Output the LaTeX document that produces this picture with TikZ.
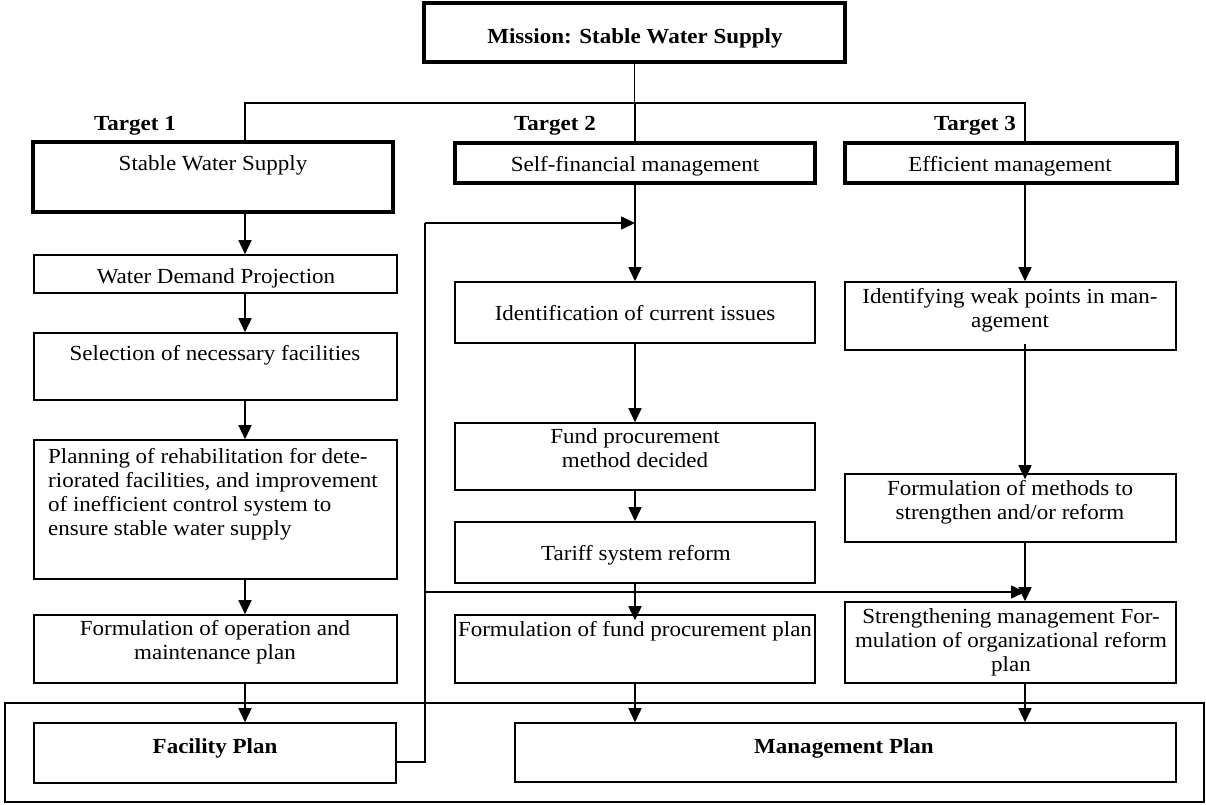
\documentclass[tikz,border=0pt]{standalone}
\usepackage{fontspec}
\setmainfont{Liberation Serif}[FakeStretch=1.07]
\usetikzlibrary{arrows.meta,calc}
\newcommand\mkbox[6]{\node[#6, minimum width={(#4-#2)*1pt}, minimum height={(#5-#3)*1pt}] (#1) at ({(#2+#4)/2},{(#3+#5)/2}) {};}
\newcommand\tx[5]{\node[#2, anchor=north] (#1) at (#3,{#4-16.8}) {\strut #5};}
\begin{document}
\begin{tikzpicture}[x=1pt,y=-1pt,
  thinbox/.style={draw, line width=1.6pt, inner sep=0pt, rectangle},
  thickbox/.style={draw, line width=3.2pt, inner sep=0pt, rectangle},
  txt/.style={inner sep=0pt, align=center, font=\fontsize{21.5}{24}\selectfont},
  btxt/.style={inner sep=0pt, align=center, font=\fontsize{21.5}{24}\selectfont\bfseries},
  conn/.style={line width=1.6pt},
  arr/.style={line width=1.6pt, -{Triangle[length=14pt,width=13pt]}},
]
\useasboundingbox (0,0) rectangle (1206,804);

% outer container
\mkbox{outer}{5}{703}{1204}{802}{thinbox}

% mission and targets
\mkbox{mission}{424}{3}{845}{62}{thickbox}
\mkbox{t1}{33}{142}{393}{212}{thickbox}
\mkbox{t2}{455}{143}{815}{183}{thickbox}
\mkbox{t3}{845}{143}{1177}{183}{thickbox}

% left column
\mkbox{wdp}{34}{255}{397}{293}{thinbox}
\mkbox{sel}{34}{333}{397}{400}{thinbox}
\mkbox{plan}{34}{440}{397}{579}{thinbox}
\mkbox{form}{34}{615}{397}{683}{thinbox}
\mkbox{fac}{34}{723}{396}{783}{thinbox}

% middle column
\mkbox{ident}{455}{282}{815}{343}{thinbox}
\mkbox{fund}{455}{423}{815}{490}{thinbox}
\mkbox{tariff}{455}{522}{815}{583}{thinbox}
\mkbox{fplan}{455}{615}{815}{683}{thinbox}

% right column
\mkbox{weak}{845}{282}{1176}{350}{thinbox}
\mkbox{methods}{845}{474}{1176}{542}{thinbox}
\mkbox{strength}{845}{602}{1176}{683}{thinbox}
\mkbox{mgmt}{515}{723}{1176}{782}{thinbox}

% texts
\tx{missiont}{btxt}{635}{43}{Mission: Stable Water Supply}
\tx{lab1}{btxt}{135}{130}{Target 1}
\tx{lab2}{btxt}{555}{130}{Target 2}
\tx{lab3}{btxt}{975}{130}{Target 3}
\tx{t1t}{txt}{213}{170}{Stable Water Supply}
\tx{t2t}{txt}{635}{171}{Self-financial management}
\tx{t3t}{txt}{1010}{171}{Efficient management}
\tx{wdpt}{txt}{216}{283}{Water Demand Projection}
\tx{selt}{txt}{215}{360}{Selection of necessary facilities}
\node[txt, align=left, anchor=north west] (plant) at (48,{463-16.8}) {\strut Planning of rehabilitation for dete-\\riorated facilities, and improvement\\of inefficient control system to\\ensure stable water supply};
\tx{formt}{txt}{215}{635}{Formulation of operation and\\maintenance plan}
\tx{fact}{btxt}{215}{753}{Facility Plan}
\tx{identt}{txt}{635}{320}{Identification of current issues}
\tx{fundt}{txt}{635}{443}{Fund procurement\\method decided}
\tx{tarifft}{txt}{636}{560}{Tariff system reform}
\tx{fplant}{txt}{635}{636}{Formulation of fund procurement plan}
\tx{weakt}{txt}{1010}{303}{Identifying weak points in man-\\agement}
\tx{methodst}{txt}{1010}{495}{Formulation of methods to\\strengthen and/or reform}
\tx{strengtht}{txt}{1011}{623}{Strengthening management For-\\mulation of organizational reform\\plan}
\tx{mgmtt}{btxt}{844}{753}{Management Plan}

% tree connectors
\coordinate (j1) at (245,103);
\coordinate (j3) at (1025,103);
\draw[conn] (mission.south) -- (mission.south |- j1);
\draw[conn] (j1 |- t1.north) -- (j1) -- (j3) -- (j3 |- t3.north);
\draw[conn] (t2.north |- j1) -- (t2.north);

% left column arrows
\draw[arr] (j1 |- t1.south) -- (j1 |- wdp.north);
\draw[arr] (j1 |- wdp.south) -- (j1 |- sel.north);
\draw[arr] (j1 |- sel.south) -- (j1 |- plan.north);
\draw[arr] (j1 |- plan.south) -- (j1 |- form.north);
\draw[arr] (j1 |- form.south) -- (j1 |- fac.north);

% middle column arrows
\draw[arr] (t2.south) -- (ident.north);
\draw[arr] (ident.south) -- (fund.north);
\draw[arr] (fund.south) -- (tariff.north);
\draw[arr] (tariff.south) -- ([yshift=-6pt]fplan.north);
\draw[arr] (fplan.south) -- (fplan.south |- mgmt.north);

% right column arrows
\draw[arr] (j3 |- t3.south) -- (j3 |- weak.north);
\draw[arr] ([yshift=7pt]j3 |- weak.south) -- ([yshift=-6pt]j3 |- methods.north);
\draw[arr] (j3 |- methods.south) -- (j3 |- strength.north);
\draw[arr] (j3 |- strength.south) -- (j3 |- mgmt.north);

% feedback from facility plan
\coordinate (fb0) at ($(fac.east)+(0,9)$);
\coordinate (fbt) at (425,223);
\coordinate (fbm) at (425,592);
\draw[conn] (fb0) -- (fb0 -| fbt) -- (fbt);
\draw[arr] (fbt) -- (fbt -| ident.north);
\draw[arr] (fbm) -- (fbm -| j3);
\end{tikzpicture}
\end{document}
